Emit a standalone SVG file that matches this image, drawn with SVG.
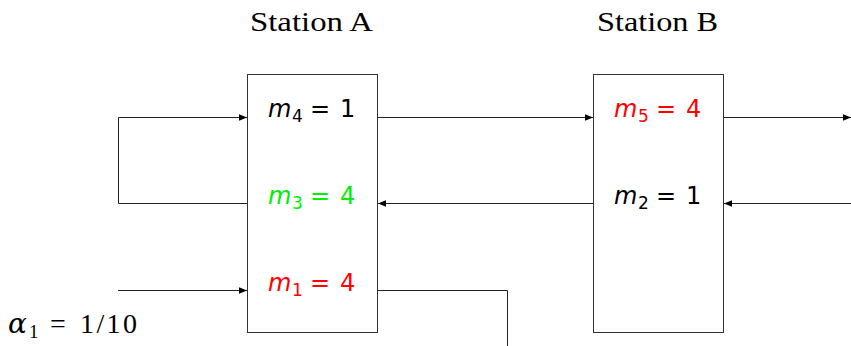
<svg xmlns="http://www.w3.org/2000/svg" width="851" height="346" viewBox="0 0 851 346">
<style>
.box{fill:#fff;stroke:#333;stroke-width:1}
.ln{fill:none;stroke:#222;stroke-width:1}
.tt{font-family:"Liberation Serif","DejaVu Serif",serif;font-size:28px;fill:#000}
.m{font-family:"DejaVu Sans","Liberation Sans",sans-serif;font-size:24px}
.it{font-style:italic}
.sub{font-size:17px}
.rm{font-family:"Liberation Serif","DejaVu Serif",serif;font-size:28px}
</style>
<defs>
<marker id="ah" viewBox="0 0 10 10" refX="10" refY="5" markerWidth="10" markerHeight="8" markerUnits="userSpaceOnUse" orient="auto">
<path d="M0,1 L10,5 L0,9 z" fill="#000"/>
</marker>
</defs>
<text class="tt" x="250" y="31" textLength="123" lengthAdjust="spacingAndGlyphs">Station A</text>
<text class="tt" x="597" y="31" textLength="121" lengthAdjust="spacingAndGlyphs">Station B</text>
<g id="stationA">
<rect class="box" x="247.5" y="74.5" width="130" height="258"/>
<text class="m" y="117" fill="#000"><tspan class="it" x="268">m</tspan><tspan class="sub" x="292" dy="5">4</tspan><tspan x="310" dy="-5">=</tspan><tspan x="340">1</tspan></text>
<text class="m" y="204" fill="#00ee00"><tspan class="it" x="268">m</tspan><tspan class="sub" x="292" dy="5">3</tspan><tspan x="310" dy="-5">=</tspan><tspan x="340">4</tspan></text>
<text class="m" y="291" fill="#ff0000"><tspan class="it" x="268">m</tspan><tspan class="sub" x="292" dy="5">1</tspan><tspan x="310" dy="-5">=</tspan><tspan x="340">4</tspan></text>
</g>
<g id="stationB">
<rect class="box" x="593.5" y="74.5" width="130" height="258"/>
<text class="m" y="117" fill="#ff0000"><tspan class="it" x="614">m</tspan><tspan class="sub" x="638" dy="5">5</tspan><tspan x="656" dy="-5">=</tspan><tspan x="686">4</tspan></text>
<text class="m" y="204" fill="#000"><tspan class="it" x="614">m</tspan><tspan class="sub" x="638" dy="5">2</tspan><tspan x="656" dy="-5">=</tspan><tspan x="686">1</tspan></text>
</g>
<g id="connectors">
<path class="ln" d="M247,203.5 H118.5 V117.5 H247" marker-end="url(#ah)"/>
<path class="ln" d="M118,290.5 H247" marker-end="url(#ah)"/>
<path class="ln" d="M378,290.5 H507.5 V346"/>
<path class="ln" d="M378,117.5 H593" marker-end="url(#ah)"/>
<path class="ln" d="M593,203.5 H378" marker-end="url(#ah)"/>
<path class="ln" d="M724,117.5 H851" marker-end="url(#ah)"/>
<path class="ln" d="M851,203.5 H724" marker-end="url(#ah)"/>
</g>
<text class="rm" y="333" fill="#000"><tspan font-family="DejaVu Serif,serif" font-style="italic" font-size="28" x="8">α</tspan><tspan x="29" dy="5" font-size="19">1</tspan><tspan x="50" dy="-5">=</tspan><tspan x="80" textLength="57" lengthAdjust="spacing">1/10</tspan></text>
</svg>
